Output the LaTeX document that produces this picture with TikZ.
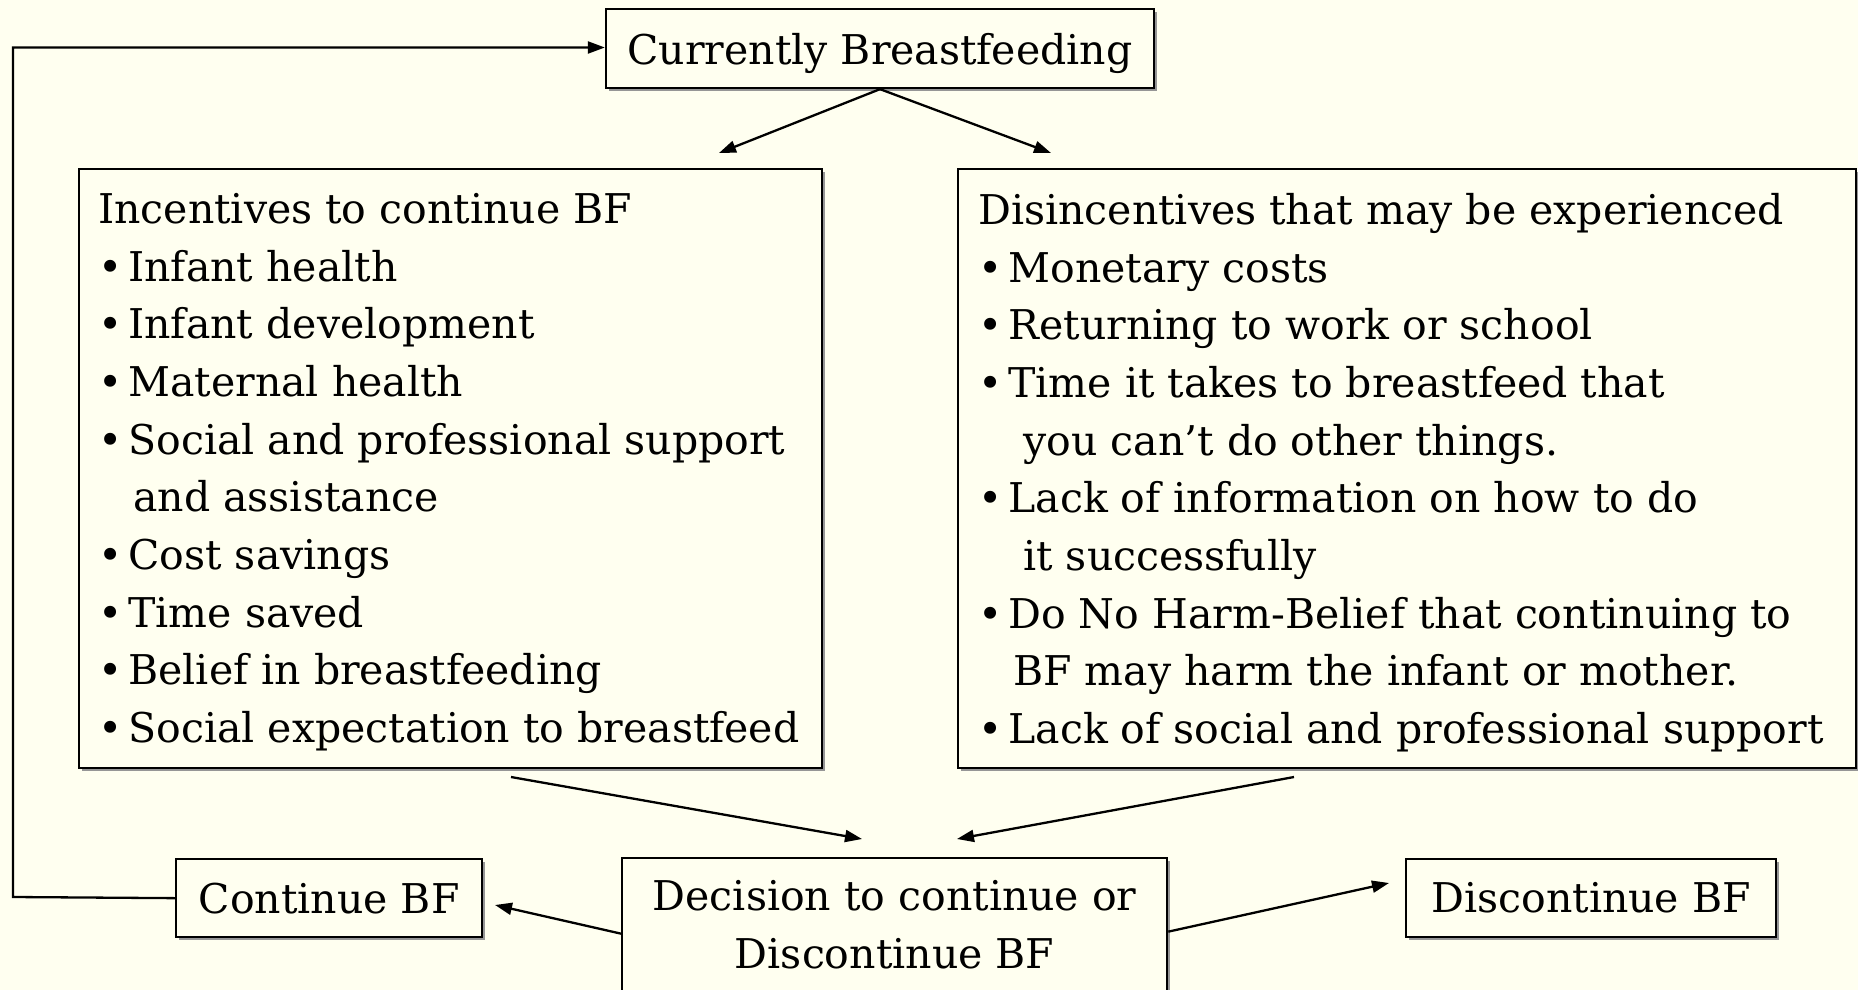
\documentclass[tikz,border=0pt]{standalone}
\usepackage{fontspec}
\setmainfont{DejaVu Serif}
\usetikzlibrary{arrows.meta,shadows}
\definecolor{bg}{RGB}{255,255,240}
\definecolor{shad}{RGB}{150,150,150}
\tikzset{
  box/.style={draw=black, line width=2.3pt, fill=bg, inner sep=0pt,
    drop shadow={shadow xshift=3pt, shadow yshift=-3pt, fill=shad, opacity=1}},
  txt/.style={font=\fontsize{41}{57.7}\selectfont},
  body/.style={txt, anchor=north west, inner sep=0pt, align=left},
  arr/.style={line width=2.3pt, -{Triangle[length=17pt,width=12pt]}}
}
\newcommand{\bul}{•\hspace*{6pt}}
\newcommand{\ind}[1]{\phantom{•}\hspace*{6pt}\hspace*{#1}}
\begin{document}
\begin{tikzpicture}[x=1pt,y=-1pt]
\fill[bg] (0,0) rectangle (1858,990);
\useasboundingbox (0,0) rectangle (1858,990);

\node[box, txt, minimum width=548pt, minimum height=79pt] (top) at (880,48.5) {\rule{0pt}{42pt}Currently Breastfeeding};

\node[box, anchor=north west, minimum width=743pt, minimum height=599pt] (inc) at (78,168) {};
\node[body] (inctext) at (98,193)
{Incentives to continue BF\\
\bul Infant health\\
\bul Infant development\\
\bul Maternal health\\
\bul Social and professional support\\
\ind{5pt}and assistance\\
\bul Cost savings\\
\bul Time saved\\
\bul Belief in breastfeeding\\
\bul Social expectation to breastfeed};

\node[box, anchor=north west, minimum width=898pt, minimum height=599pt] (dis) at (957,168) {};
\node[body] (distext) at (978,193)
{Disincentives that may be experienced\\
\bul Monetary costs\\
\bul Returning to work or school\\
\bul Time it takes to breastfeed that\\
\ind{15pt}you can’t do other things.\\
\bul Lack of information on how to do\\
\ind{15pt}it successfully\\
\bul Do No Harm-Belief that continuing to\\
\ind{5pt}BF may harm the infant or mother.\\
\bul Lack of social and professional support};

\node[box, txt, anchor=north west, minimum width=306pt, minimum height=78pt] (cont) at (175,858) {Continue BF};
\node[box, txt, anchor=north west, minimum width=545pt, minimum height=133pt, align=center] (dec) at (621,857) {Decision to continue or\\Discontinue BF};
\node[box, txt, anchor=north west, minimum width=370pt, minimum height=78pt] (disc) at (1405,858) {Discontinue BF};

\coordinate (tl) at (719,153);
\coordinate (tr) at (1051,153);
\coordinate (ls) at (511,777);
\coordinate (le) at (862,839);
\coordinate (rs) at (1294,777);
\coordinate (re) at (957,839);
\coordinate (ce) at (495,905);
\coordinate (de) at (1389,883);
\coordinate (corner) at (13,897);

\draw[arr] (top.south) -- (tl);
\draw[arr] (top.south) -- (tr);
\draw[arr] (ls) -- (le);
\draw[arr] (rs) -- (re);
\draw[arr] ([yshift=-9pt]dec.west) -- (ce);
\draw[arr] ([yshift=-7pt]dec.east) -- (de);
\draw[arr] (cont.west) -- (corner) |- ([yshift=1pt]top.west);
\end{tikzpicture}
\end{document}
